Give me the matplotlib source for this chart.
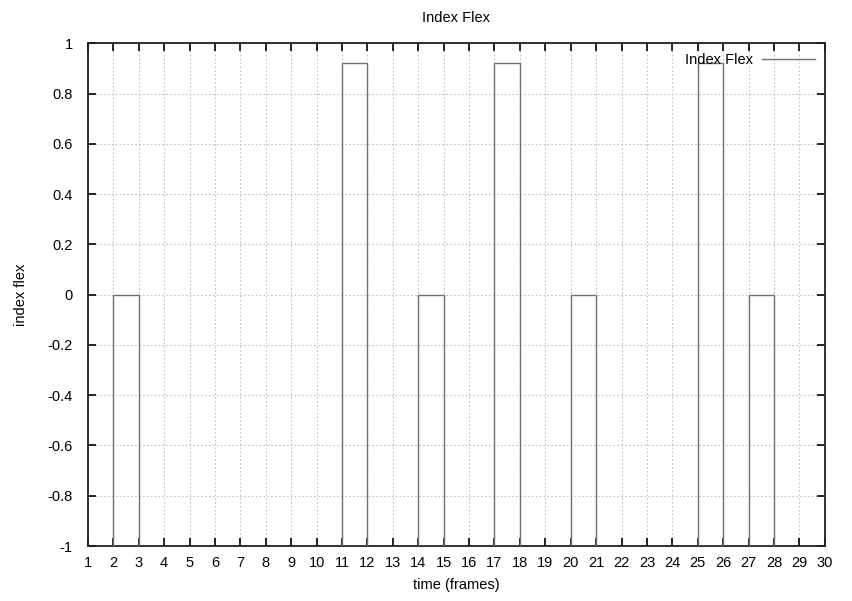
import matplotlib
matplotlib.use('Agg')
import matplotlib.pyplot as plt

# frames where a box starts, and its value
frames = [2, 11, 14, 17, 20, 25, 27]
flex = [0, 0.92, 0, 0.92, 0, 0.92, 0]
xticks = list(range(1, 31))
yticks = [-1, -0.8, -0.6, -0.4, -0.2, 0, 0.2, 0.4, 0.6, 0.8, 1]

plt.rcParams['font.family'] = ['Liberation Sans', 'DejaVu Sans']
plt.rcParams['font.size'] = 10.5

fig = plt.figure(figsize=(8.53, 6.01), dpi=100)
ax = fig.add_axes([0.103, 0.0915, 0.864, 0.8365])

ymin = -1
ax.bar(frames, [v - ymin for v in flex], width=1, bottom=ymin, align='edge',
       fill=False, edgecolor='#707070', linewidth=1, zorder=3)
ax.plot([], [], color='#707070', linewidth=1, label='Index Flex')

ax.set_xlim(1, 30)
ax.set_ylim(-1, 1)
ax.set_xticks(xticks)
ax.set_yticks(yticks)
ax.set_yticklabels(['-1', '-0.8', '-0.6', '-0.4', '-0.2', '0', '0.2', '0.4', '0.6', '0.8', '1'])
ax.grid(True, linestyle=(0, (1.5, 2)), color='#c0c0c0', linewidth=0.8)
ax.tick_params(axis='x', direction='in', top=True, length=6, width=1.2,
               labelsize=10.5, pad=7)
ax.tick_params(axis='y', direction='in', right=True, length=6, width=1.2,
               labelsize=10.5, pad=11)
for s in ax.spines.values():
    s.set_linewidth(1.3)
    s.set_color('#202020')

ax.set_title('Index Flex', fontsize=10.5, pad=15)
ax.set_xlabel('time (frames)', fontsize=10.5, labelpad=6)
ax.set_ylabel('index flex', fontsize=10.5, labelpad=14)
ax.legend(loc='upper right', frameon=False, markerfirst=False, fontsize=10.5,
          handlelength=3.6, handletextpad=0.6, borderaxespad=0.3)

plt.savefig('out.png')
plt.close()
